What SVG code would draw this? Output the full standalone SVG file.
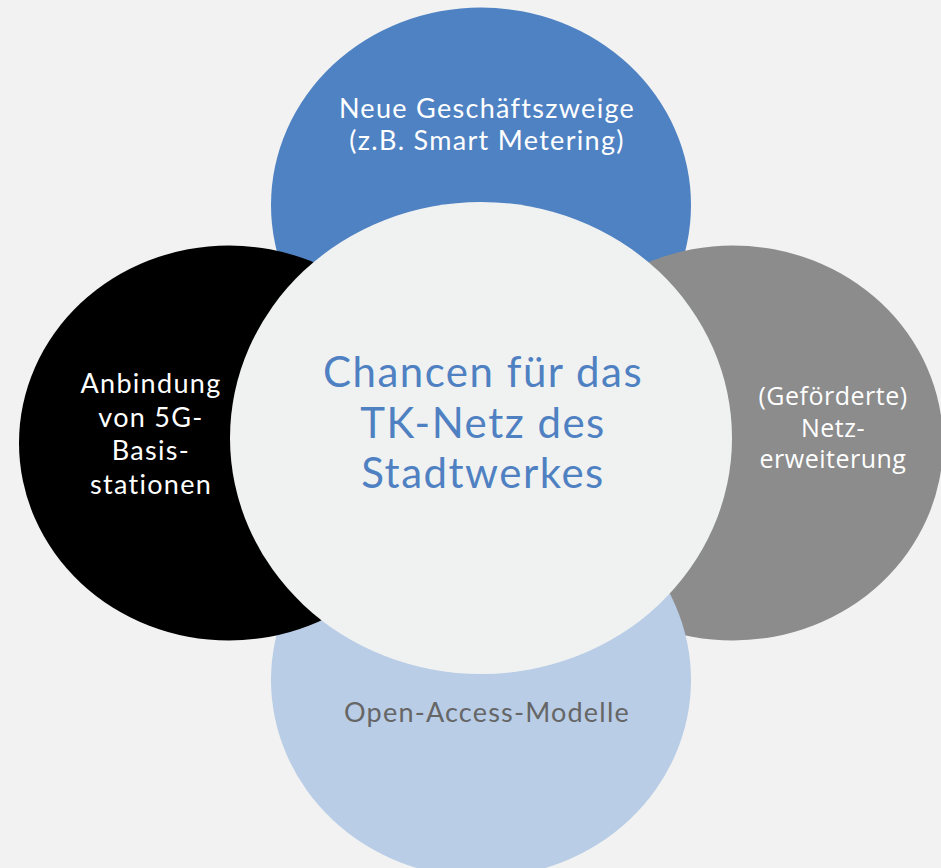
<svg xmlns="http://www.w3.org/2000/svg" width="941" height="868" viewBox="0 0 941 868">
  <style>
    .lbl { font-family: Lato, "Open Sans", "Liberation Sans", sans-serif; text-anchor: middle; }
    .side { font-size: 27px; letter-spacing: 1.3px; fill: #ffffff; }
    .right { font-family: "Open Sans", "Liberation Sans", sans-serif; font-size: 25px; letter-spacing: 0.5px; fill: #ffffff; }
    .bottom { font-size: 27px; letter-spacing: 1.2px; fill: #666666; }
    .core { font-size: 42px; letter-spacing: 1.5px; fill: #4f81c2; }
  </style>
  <rect width="941" height="868" fill="#f2f2f2"/>

  <!-- outer topics, painted back to front -->
  <g id="node-geschaeftszweige">
    <ellipse cx="481" cy="205" rx="210" ry="197.5" fill="#4f82c3"/>
    <text class="lbl side" x="487" y="118">Neue Geschäftszweige</text>
    <text class="lbl side" x="487" y="150">(z.B. Smart Metering)</text>
  </g>

  <g id="node-netzerweiterung">
    <ellipse cx="733" cy="443" rx="210" ry="197.5" fill="#8c8c8c"/>
    <text class="lbl right" x="833" y="405">(Geförderte)</text>
    <text class="lbl right" x="833" y="437">Netz-</text>
    <text class="lbl right" x="833" y="468">erweiterung</text>
  </g>

  <g id="node-open-access">
    <ellipse cx="481" cy="680" rx="210" ry="197.5" fill="#b9cde6"/>
    <text class="lbl bottom" x="487" y="722">Open-Access-Modelle</text>
  </g>

  <g id="node-5g">
    <ellipse cx="229" cy="443" rx="210" ry="197.5" fill="#000000"/>
    <text class="lbl side" x="151" y="393">Anbindung</text>
    <text class="lbl side" x="151" y="427">von 5G-</text>
    <text class="lbl side" x="151" y="460">Basis-</text>
    <text class="lbl side" x="151" y="494">stationen</text>
  </g>

  <!-- central topic -->
  <g id="node-chancen">
    <ellipse cx="481" cy="438" rx="251" ry="236" fill="#f0f2f2"/>
    <text class="lbl core" x="483" y="387">Chancen für das</text>
    <text class="lbl core" x="483" y="438">TK-Netz des</text>
    <text class="lbl core" x="483" y="488">Stadtwerkes</text>
  </g>

  <g id="connectors"/>
</svg>
